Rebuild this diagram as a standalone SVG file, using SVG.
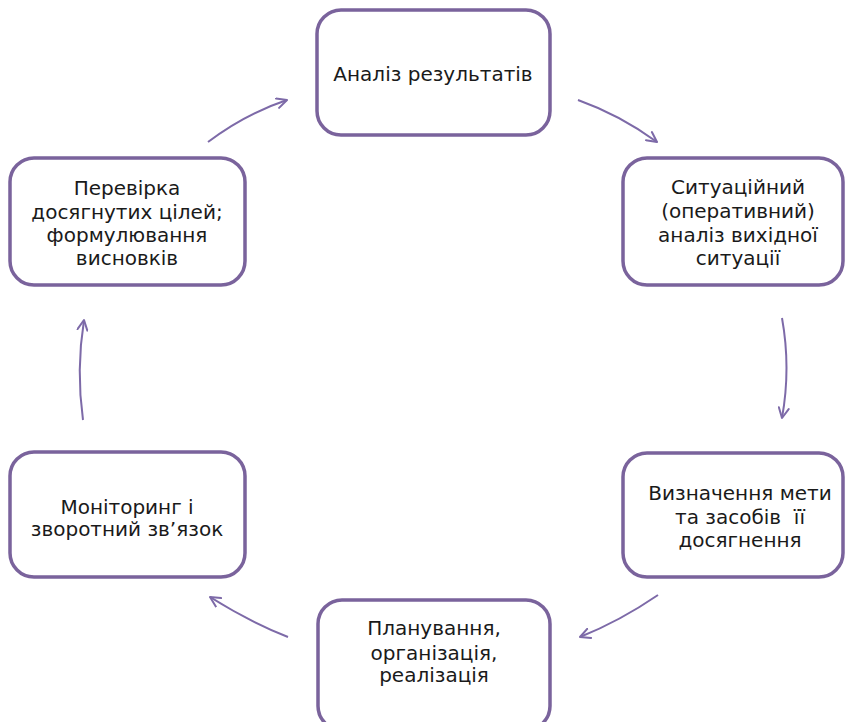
<svg xmlns="http://www.w3.org/2000/svg" width="847" height="722" viewBox="0 0 847 722">
<style>
.box{fill:#fff;stroke:#7a639c;stroke-width:3.5}
.t{font-family:"DejaVu Sans","Open Sans",sans-serif;font-size:20px;fill:#1a1a1a;text-anchor:middle}
.c{fill:none;stroke:#7d6aa8;stroke-width:2}
</style>
<defs>
<marker id="ah" viewBox="0 0 12 12" refX="11" refY="6" markerWidth="12" markerHeight="12" markerUnits="userSpaceOnUse" orient="auto">
<path d="M1,1 L11,6 L1,11" fill="none" stroke="#7d6aa8" stroke-width="2" stroke-linecap="round" stroke-linejoin="round"/>
</marker>
</defs>
<rect width="847" height="722" fill="#fff"/>
<g id="n1"><rect class="box" x="317" y="10" width="233" height="125" rx="24"/>
<text class="t" x="433" y="81">Аналіз результатів</text></g>
<g id="n2"><rect class="box" x="623" y="158" width="220" height="127" rx="24"/>
<text class="t" x="738" y="194">Ситуаційний</text>
<text class="t" x="738" y="218">(оперативний)</text>
<text class="t" x="738" y="242">аналіз вихідної</text>
<text class="t" x="738" y="265">ситуації</text></g>
<g id="n3"><rect class="box" x="623" y="453" width="220" height="124" rx="24"/>
<text class="t" x="740" y="500">Визначення мети</text>
<text class="t" x="740" y="524" xml:space="preserve">та засобів  її</text>
<text class="t" x="740" y="547">досягнення</text></g>
<g id="n4"><rect class="box" x="318" y="600" width="232" height="130" rx="24"/>
<text class="t" x="434" y="635">Планування,</text>
<text class="t" x="434" y="660">організація,</text>
<text class="t" x="434" y="682">реалізація</text></g>
<g id="n5"><rect class="box" x="10" y="452" width="235" height="125" rx="24"/>
<text class="t" x="127" y="514">Моніторинг і</text>
<text class="t" x="127" y="536">зворотний зв’язок</text></g>
<g id="n6"><rect class="box" x="10" y="158" width="235" height="127" rx="24"/>
<text class="t" x="127" y="195">Перевірка</text>
<text class="t" x="127" y="219">досягнутих цілей;</text>
<text class="t" x="127" y="242">формулювання</text>
<text class="t" x="127" y="265">висновків</text></g>
<g id="connectors">
<path class="c" d="M578,100 Q620,115 657,142" marker-end="url(#ah)"/>
<path class="c" d="M782,318 Q791,368 782,418" marker-end="url(#ah)"/>
<path class="c" d="M658,595 Q620,621 580,637" marker-end="url(#ah)"/>
<path class="c" d="M288,637 Q250,622 210,597" marker-end="url(#ah)"/>
<path class="c" d="M83,420 Q76,370 84,320" marker-end="url(#ah)"/>
<path class="c" d="M208,142 Q245,114 287,100" marker-end="url(#ah)"/>
</g>
</svg>
